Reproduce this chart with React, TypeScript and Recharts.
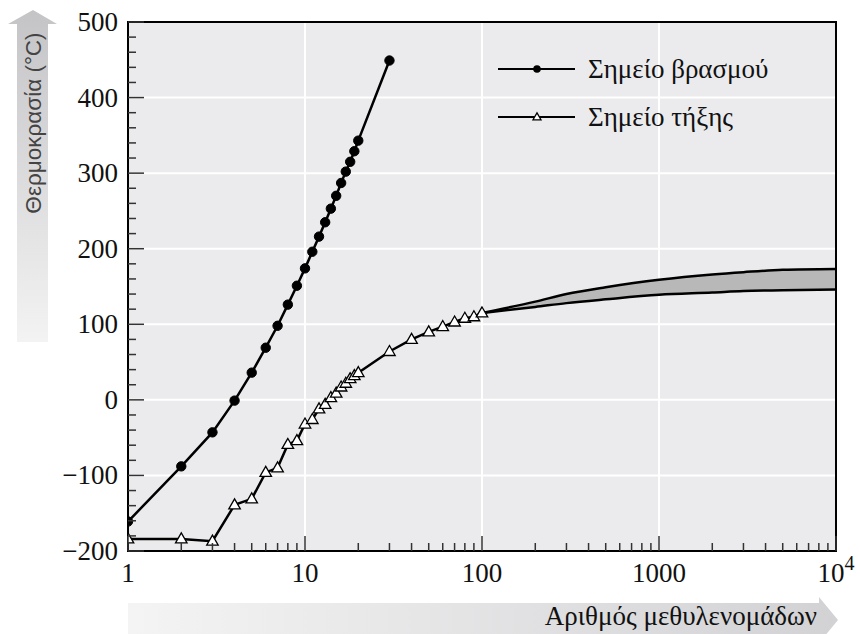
import {
  ComposedChart,
  Line,
  Area,
  XAxis,
  YAxis,
  CartesianGrid,
  ReferenceArea,
  Legend,
} from 'recharts'

// boiling points of n-alkanes, by number of CH2 groups
const boilN = [1, 2, 3, 4, 5, 6, 7, 8, 9, 10, 11, 12, 13, 14, 15, 16, 17, 18, 19, 20, 30]
const boilT = [-161, -88, -43, -1, 36, 69, 98, 126, 151, 174, 196, 216, 235, 253, 270, 287, 302, 315, 329, 343, 449]

// melting points
const meltN = [1, 2, 3, 4, 5, 6, 7, 8, 9, 10, 11, 12, 13, 14, 15, 16, 17, 18, 19, 20, 30, 40, 50, 60, 70, 80, 90, 100]
const meltT = [-184, -184, -187, -139, -131, -96, -90, -59, -54, -32, -26, -12, -6, 3, 9, 17, 22, 28, 32, 36, 64, 80, 90, 97, 103, 108, 110, 115]

// polyethylene range (lower / upper edge)
const bandN = [100, 200, 300, 500, 1000, 2000, 3000, 5000, 10000]
const bandLo = [115, 123, 128, 133, 139, 142, 144, 145, 146]
const bandHi = [115, 130, 140, 149, 159, 166, 169, 172, 173]

const xTicks = [
  1, 2, 3, 4, 5, 6, 7, 8, 9,
  10, 20, 30, 40, 50, 60, 70, 80, 90,
  100, 200, 300, 400, 500, 600, 700, 800, 900,
  1000, 2000, 3000, 4000, 5000, 6000, 7000, 8000, 9000,
  10000,
]
const xMajor = [1, 10, 100, 1000, 10000]
const xGrid = [10, 100, 1000]

const yTicks = [
  -200, -180, -160, -140, -120, -100, -80, -60, -40, -20,
  0, 20, 40, 60, 80, 100, 120, 140, 160, 180,
  200, 220, 240, 260, 280, 300, 320, 340, 360, 380,
  400, 420, 440, 460, 480, 500,
]
const yMajor = [-200, -100, 0, 100, 200, 300, 400, 500]
const yGrid = [-100, 0, 100, 200, 300, 400]

const boilData = boilN.map((n, i) => ({ n, t: boilT[i] }))
const meltData = meltN.map((n, i) => ({ n, t: meltT[i] }))
const bandData = bandN.map((n, i) => ({ n, range: [bandLo[i], bandHi[i]] }))

const SERIF = '"Liberation Serif", "DejaVu Serif", serif'
const SANS = '"Liberation Sans", Arial, sans-serif'
const serifStyle = { fontFamily: SERIF }

const XTick = (props: any) => {
  const { x, y, payload } = props
  const v = payload.value
  const major = xMajor.includes(v)
  return (
    <g>
      <line x1={x} y1={y} x2={x} y2={y - (major ? 15 : 8)} stroke="#333" strokeWidth={1.5} />
      {major && (
        <text x={x} y={y + 31} textAnchor="middle" style={serifStyle} fontSize={27} fill="#111">
          {v === 10000 ? (
            <>
              10<tspan dy={-12} fontSize={20}>4</tspan>
            </>
          ) : (
            String(v)
          )}
        </text>
      )}
    </g>
  )
}

const YTick = (props: any) => {
  const { x, y, payload } = props
  const v = payload.value
  const major = yMajor.includes(v)
  return (
    <g>
      <line x1={x} y1={y} x2={x + (major ? 16 : 8)} y2={y} stroke="#333" strokeWidth={1.5} />
      {major && (
        <text x={x - 10} y={y + 9} textAnchor="end" style={serifStyle} fontSize={27} fill="#111">
          {v < 0 ? '\u2212' + Math.abs(v) : String(v)}
        </text>
      )}
    </g>
  )
}

const Triangle = (props: any) => {
  const { cx, cy, s = 11 } = props
  if (cx == null || cy == null) return null
  const h = s * 0.87
  const pts = `${cx},${cy - h * 0.6} ${cx - s / 2},${cy + h * 0.4} ${cx + s / 2},${cy + h * 0.4}`
  return <polygon points={pts} fill="#fff" stroke="#000" strokeWidth={1.3} />
}

const LegendBox = () => (
  <svg width={320} height={84}>
    <line x1={1} y1={17} x2={78} y2={17} stroke="#000" strokeWidth={2} />
    <circle cx={40} cy={17} r={3.8} fill="#000" />
    <text x={91} y={26} style={serifStyle} fontSize={27} fill="#111">
      Σημείο βρασμού
    </text>
    <line x1={1} y1={65} x2={78} y2={65} stroke="#000" strokeWidth={2} />
    <Triangle cx={40} cy={65} s={8} />
    <text x={91} y={74} style={serifStyle} fontSize={27} fill="#111">
      Σημείο τήξης
    </text>
  </svg>
)

export default function App() {
  return (
    <div style={{ position: 'absolute', left: 0, top: 0, width: 860, height: 634, overflow: 'hidden', background: '#fff' }}>
      <svg width={860} height={634} style={{ position: 'absolute', left: 0, top: 0 }}>
        <defs>
          <linearGradient id="gy" x1="0" y1="0" x2="0" y2="1">
            <stop offset="0" stopColor="#c4c4c6" />
            <stop offset="1" stopColor="#f3f3f4" />
          </linearGradient>
          <linearGradient id="gx" x1="0" y1="0" x2="1" y2="0">
            <stop offset="0" stopColor="#f4f4f5" />
            <stop offset="1" stopColor="#d2d2d4" />
          </linearGradient>
        </defs>
        <polygon points="33,10 57,24 48,24 48,342 17,342 17,24 8,24" fill="url(#gy)" />
        <text
          transform="translate(41,123) rotate(-90)"
          textAnchor="middle"
          style={{ fontFamily: SANS }}
          fontSize={22.5}
          fill="#444"
        >
          Θερμοκρασία (°C)
        </text>
        <polygon points="128,603 819,603 819,597 838,620 819,643 819,637 128,637" fill="url(#gx)" />
        <text x={817} y={625} textAnchor="end" style={serifStyle} fontSize={27} fill="#111">
          Αριθμός μεθυλενομάδων
        </text>
      </svg>
      <div style={{ position: 'absolute', left: 0, top: 0 }}>
        <ComposedChart width={860} height={634} margin={{ top: 22, right: 24, bottom: 0, left: 0 }}>
          <CartesianGrid
            fill="#ebebed"
            stroke="#fff"
            strokeWidth={2}
            horizontalValues={yGrid}
            verticalValues={xGrid}
          />
          <XAxis
            dataKey="n"
            type="number"
            scale="log"
            domain={[1, 10000]}
            allowDataOverflow
            ticks={xTicks}
            interval={0}
            tick={<XTick />}
            tickSize={0}
            tickMargin={0}
            tickLine={false}
            axisLine={{ stroke: '#000', strokeWidth: 2 }}
            height={83}
          />
          <YAxis
            type="number"
            domain={[-200, 500]}
            allowDataOverflow
            ticks={yTicks}
            interval={0}
            tick={<YTick />}
            tickSize={0}
            tickMargin={0}
            tickLine={false}
            axisLine={{ stroke: '#000', strokeWidth: 2 }}
            width={128}
          />
          <Area
            data={bandData}
            dataKey="range"
            type="monotone"
            fill="#b8b8b8"
            fillOpacity={1}
            stroke="#000"
            strokeWidth={2.5}
            isAnimationActive={false}
            legendType="none"
          />
          <Line
            data={boilData}
            dataKey="t"
            name="Σημείο βρασμού"
            stroke="#000"
            strokeWidth={2.5}
            dot={{ r: 4.7, fill: '#000', stroke: '#000', strokeWidth: 1 }}
            isAnimationActive={false}
          />
          <Line
            data={meltData}
            dataKey="t"
            name="Σημείο τήξης"
            stroke="#000"
            strokeWidth={2.5}
            dot={(p: any) => <Triangle key={p.index} cx={p.cx} cy={p.cy} s={11.5} />}
            isAnimationActive={false}
          />
          <ReferenceArea x1={1} x2={10000} y1={-200} y2={500} fill="none" stroke="#000" strokeWidth={2} />
          <Legend
            layout="vertical"
            align="center"
            verticalAlign="middle"
            content={<LegendBox />}
            wrapperStyle={{ position: 'absolute', left: 497, top: 52, width: 320, height: 84 }}
          />
        </ComposedChart>
      </div>
    </div>
  )
}
